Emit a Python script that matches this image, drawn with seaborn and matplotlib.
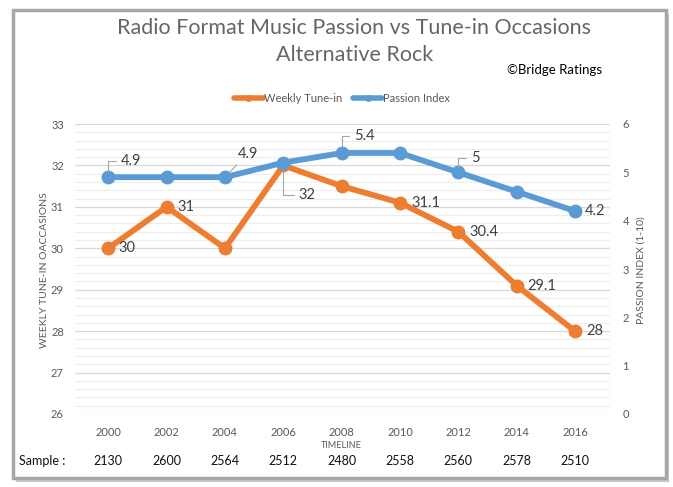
import matplotlib
matplotlib.use("Agg")
import matplotlib.pyplot as plt
from matplotlib.patches import Rectangle
from matplotlib.lines import Line2D
from matplotlib.ticker import MultipleLocator
import seaborn as sns
import pandas as pd

years = ['2000', '2002', '2004', '2006', '2008', '2010', '2012', '2014', '2016']
tune_in = [30, 31, 30, 32, 31.5, 31.1, 30.4, 29.1, 28]
passion = [4.9, 4.9, 4.9, 5.2, 5.4, 5.4, 5.0, 4.6, 4.2]
samples = [2130, 2600, 2564, 2512, 2480, 2558, 2560, 2578, 2510]
tune_labels = ['30', '31', None, '32', None, '31.1', '30.4', '29.1', '28']
passion_labels = ['4.9', None, '4.9', None, '5.4', None, '5', None, '4.2']

sns.set_theme(style="white")
plt.rcParams['font.family'] = ['Lato', 'DejaVu Sans']

ORANGE = '#ED7D31'
BLUE = '#5B9BD5'
GRAY = '#595959'
LBL = '#404040'

df = pd.DataFrame({'pos': range(len(years)), 'year': years,
                   'tune': tune_in, 'passion': passion})

W, H = 673, 487
fig = plt.figure(figsize=(W / 100, H / 100), dpi=100)
fig.patch.set_facecolor('white')

# frame with shadow
fig.patches.append(Rectangle((16 / W, 1 - 482 / H), 653 / W, 468 / H, transform=fig.transFigure,
                             facecolor='#C8C8C8', edgecolor='none', zorder=-3))
fig.patches.append(Rectangle((13 / W, 1 - 478 / H), 653 / W, 468 / H, transform=fig.transFigure,
                             facecolor='white', edgecolor='#A6A6A6', linewidth=2.5, zorder=-2))

ax = fig.add_axes([75 / W, 1 - 414 / H, 535 / W, 290 / H])
ax.set_facecolor('none')
ax2 = ax.twinx()

sns.lineplot(data=df, x='pos', y='tune', ax=ax, color=ORANGE, linewidth=4.2,
             marker='o', markersize=10, markeredgewidth=0, zorder=3)
sns.lineplot(data=df, x='pos', y='passion', ax=ax2, color=BLUE, linewidth=4.2,
             marker='o', markersize=10, markeredgewidth=0, zorder=3)

ax.set_xlim(-0.57, 8.6)
ax.set_ylim(26, 33)
ax2.set_ylim(0, 6)
ax.yaxis.set_major_locator(MultipleLocator(1))
ax.yaxis.set_minor_locator(MultipleLocator(0.2))
ax2.yaxis.set_major_locator(MultipleLocator(1))
ax.set_xticks(range(len(years)))
ax.set_xticklabels(years)
ax.grid(which='major', axis='y', color='#D9D9D9', linewidth=0.9)
ax.grid(which='minor', axis='y', color='#EDEDED', linewidth=0.8)
ax.set_axisbelow(True)
for a in (ax, ax2):
    for s in a.spines.values():
        s.set_visible(False)
ax.tick_params(axis='both', which='both', length=0, labelsize=8, labelcolor=GRAY)
ax.tick_params(axis='x', pad=9)
ax.tick_params(axis='y', pad=8)
ax2.tick_params(axis='y', length=0, labelsize=8, labelcolor=GRAY, pad=9)
ax.set_xlabel('')
ax.set_ylabel('')
ax2.set_ylabel('')

# data labels
lab_kw = dict(fontsize=10.5, color=LBL, va='center', ha='left')
tune_off = {0: (7, 0), 1: (8, 0), 3: (11, -21), 5: (8, 0), 6: (8, 0), 7: (8, 0), 8: (8, 0)}
for i, t in enumerate(tune_labels):
    if t is None:
        continue
    dx, dy = tune_off[i]
    if i == 3:
        ax.annotate(t, (df.pos[i], tune_in[i]), xytext=(dx, dy), textcoords='offset points',
                    arrowprops=dict(arrowstyle='-', color='#A6A6A6', lw=0.8,
                                    connectionstyle='angle,angleA=0,angleB=90,rad=0',
                                    shrinkA=1, shrinkB=4), **lab_kw)
    else:
        ax.annotate(t, (df.pos[i], tune_in[i]), xytext=(dx, dy), textcoords='offset points', **lab_kw)

pass_off = {0: (9, 12), 2: (9, 17), 4: (9, 12), 6: (9, 10), 8: (7, 0)}
for i, t in enumerate(passion_labels):
    if t is None:
        continue
    dx, dy = pass_off[i]
    if i == 8:
        ax2.annotate(t, (df.pos[i], passion[i]), xytext=(dx, dy), textcoords='offset points', **lab_kw)
    else:
        cs = 'arc3' if i == 2 else 'angle,angleA=0,angleB=90,rad=0'
        ax2.annotate(t, (df.pos[i], passion[i]), xytext=(dx, dy), textcoords='offset points',
                     arrowprops=dict(arrowstyle='-', color='#A6A6A6', lw=0.8,
                                     connectionstyle=cs, shrinkA=1, shrinkB=4), **lab_kw)

# titles and texts
fig.text(354 / W, 1 - 28 / H, 'Radio Format Music Passion vs Tune-in Occasions',
         ha='center', va='center', fontsize=15.5, color='#666666', fontweight='normal')
fig.text(355 / W, 1 - 55 / H, 'Alternative Rock',
         ha='center', va='center', fontsize=15.5, color='#666666', fontweight='normal')
fig.text(555 / W, 1 - 70 / H, '©Bridge Ratings', ha='center', va='center', fontsize=9.5, color='black')

fig.text(45 / W, 1 - 270 / H, 'WEEKLY TUNE-IN OACCASIONS', rotation=90, ha='center', va='center',
         fontsize=7.5, color=GRAY)
fig.text(641 / W, 1 - 270 / H, 'PASSION INDEX (1-10)', rotation=90, ha='center', va='center',
         fontsize=7.5, color=GRAY)
fig.text(ax.get_position().x0 + ax.get_position().width * (4 + 0.57) / 9.17, 1 - 446 / H, 'TIMELINE',
         ha='center', va='center', fontsize=6.5, color=GRAY)

# sample row
fig.text(42 / W, 1 - 461 / H, 'Sample :', ha='center', va='center', fontsize=9, color='#111111')
for i, s in enumerate(samples):
    ax.annotate(str(s), (df.pos[i], 0), xycoords=('data', 'figure fraction'),
                xytext=(0, (H - 461) * 0.72), textcoords='offset points',
                ha='center', va='center', fontsize=9, color='#111111', annotation_clip=False)

handles = [Line2D([], [], color=ORANGE, lw=4, marker='o', markersize=5, markeredgewidth=0),
           Line2D([], [], color=BLUE, lw=4, marker='o', markersize=5, markeredgewidth=0)]
fig.legend(handles, ['Weekly Tune-in', 'Passion Index'], loc='center', ncol=2,
           bbox_to_anchor=(342 / W, 1 - 98 / H), frameon=False, fontsize=8,
           handlelength=2.6, handletextpad=0.1, columnspacing=1.0, labelcolor=GRAY)

fig.savefig('out.png', dpi=100, facecolor='white')
